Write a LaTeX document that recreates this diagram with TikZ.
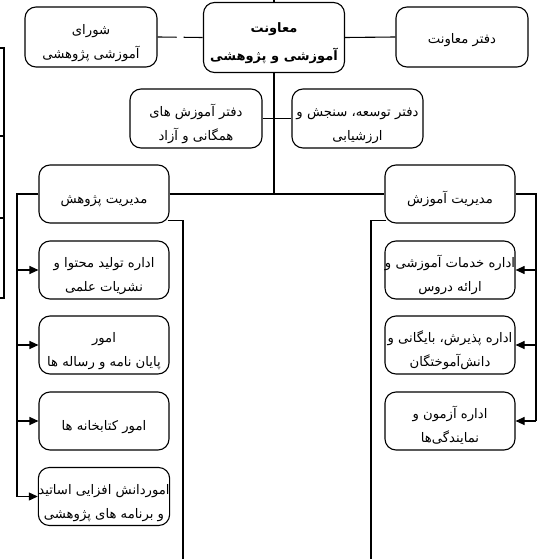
\documentclass[tikz,border=0pt]{standalone}
\usepackage{fontspec}
\usetikzlibrary{arrows.meta}
\TeXXeTstate=1
\newfontfamily\fa[Script=Arabic]{DejaVu Sans}
\newcommand{\pline}[1]{\beginR #1\endR}
\newcommand{\boxtext}[2][-5pt]{\raisebox{#1}[\height][\depth]{\begin{tabular}{@{}c@{}}#2\end{tabular}}}
\tikzset{
  box/.style={draw, line width=1.1pt, rounded corners=11pt, minimum width=130pt, minimum height=58pt, inner xsep=0pt, inner ysep=1pt, font=\fa\fontsize{13.2}{24}\selectfont},
  mainbox/.style={box, minimum width=141pt, minimum height=70pt, font=\fa\bfseries\fontsize{13}{28}\selectfont},
  conn/.style={line width=1.1pt},
  arr/.style={conn, -{Triangle[length=9pt,width=8pt]}}
}
\begin{document}
\begin{tikzpicture}[x=1pt,y=-1pt]
\useasboundingbox (0,0) rectangle (551,559);
% nodes
\node[mainbox] (main) at (274,37.5) {\boxtext[-3pt]{\pline{معاونت}\\\pline{آموزشی و پژوهشی}}};
\node[box,minimum width=132pt,minimum height=60pt] (council) at (91,37) {\boxtext{\pline{شورای}\\\pline{آموزشی پژوهشی}}};
\node[box,minimum width=132pt,minimum height=60pt] (office) at (462,37) {\boxtext[-2pt]{\pline{دفتر معاونت}}};
\node[box,minimum width=132pt,minimum height=59pt] (public) at (196,118.5) {\boxtext{\pline{دفتر آموزش های}\\\pline{همگانی و آزاد}}};
\node[box,minimum width=131pt,minimum height=59pt] (dev) at (357.5,118.5) {\boxtext{\pline{دفتر توسعه، سنجش و}\\\pline{ارزشیابی}}};
\node[box] (research) at (104,194) {\boxtext{\pline{مدیریت پژوهش}}};
\node[box] (edu) at (450,194) {\boxtext{\pline{مدیریت آموزش}}};
\node[box] (L1) at (104,270) {\boxtext{\pline{اداره تولید محتوا و}\\\pline{نشریات علمی}}};
\node[box] (L2) at (104,345) {\boxtext{\pline{امور}\\\pline{پایان نامه و رساله ها}}};
\node[box] (L3) at (104,421) {\boxtext{\pline{امور کتابخانه ها}}};
\node[box] (L4) at (104,496.5) {\boxtext{\pline{اموردانش افزایی اساتید}\\\pline{و برنامه های پژوهشی}}};
\node[box] (R1) at (450,270) {\boxtext{\pline{اداره خدمات آموزشی و}\\\pline{ارائه دروس}}};
\node[box] (R2) at (450,345) {\boxtext{\pline{اداره پذیرش، بایگانی و}\\\pline{دانش‌آموختگان}}};
\node[box] (R3) at (450,421) {\boxtext{\pline{اداره آزمون و}\\\pline{نمایندگی‌ها}}};
% coordinates
\coordinate (top) at (274,0);
\coordinate (hub) at (274,194);
\coordinate (ltrunk) at (17,496.5);
\coordinate (rtrunk) at (536,421);
\coordinate (rdown) at (183,559);
\coordinate (edown) at (371,559);
% connectors
\draw[conn] (top) -- (main.north);
\draw[conn, dash pattern=on 19pt off 7pt] (council.east) -- (main.west);
\draw[conn] (main.east) -- (office.west);
\draw[conn] (main.south) -- (hub);
\draw[conn] (public.east) -- (dev.west);
\draw[conn] (research.east) -- (edu.west);
\draw[conn] (research.west) -| (ltrunk);
\draw[arr] (ltrunk) -- (L4.west);
\foreach \n in {L1,L2,L3} \draw[arr] (ltrunk |- \n.west) -- (\n.west);
\draw[conn] (edu.east) -| (rtrunk);
\draw[arr] (rtrunk) -- (R3.east);
\foreach \n in {R1,R2} \draw[arr] (rtrunk |- \n.east) -- (\n.east);
\draw[conn] ([xshift=-2pt,yshift=3pt]research.south east) -| (rdown);
\draw[conn] ([xshift=2pt,yshift=3pt]edu.south west) -| (edown);
% clipped bracket at left edge
\coordinate (b1) at (0,48); \coordinate (b2) at (4,48);
\coordinate (b3) at (4,298); \coordinate (b4) at (0,298);
\draw[conn] (b1) -- (b2) -- (b3) -- (b4);
\draw[conn] (0,136) -- (4,136);
\draw[conn] (0,218) -- (4,218);
\end{tikzpicture}
\end{document}
